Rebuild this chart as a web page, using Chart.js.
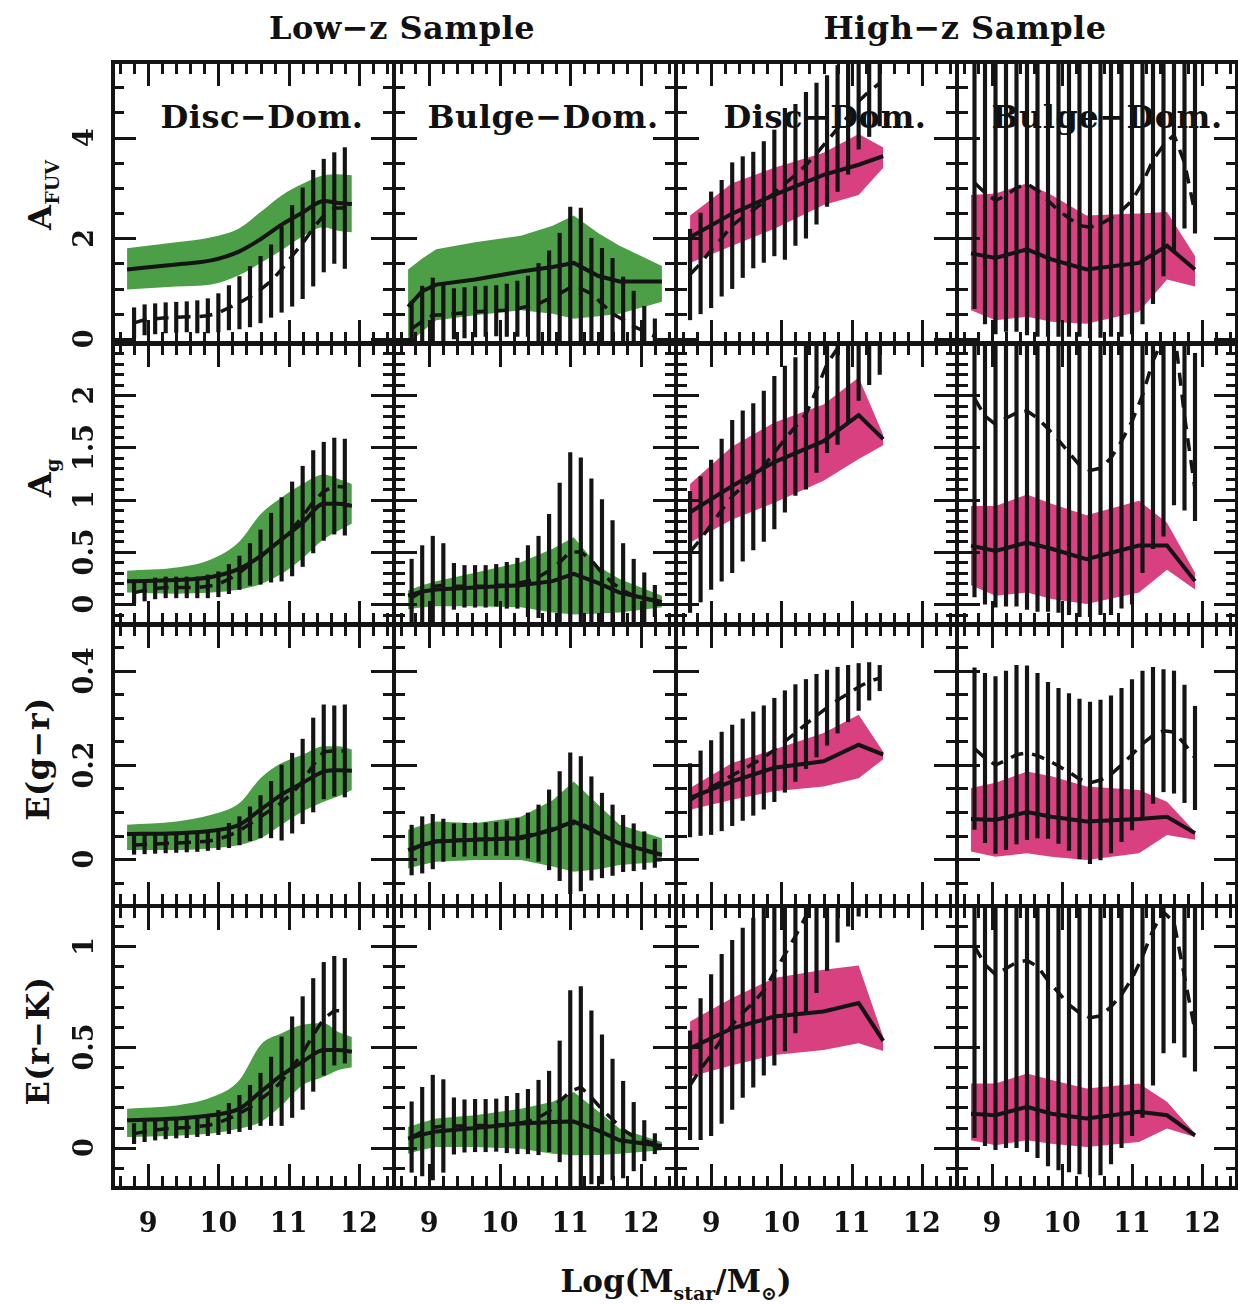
<!DOCTYPE html>
<html>
<head>
<meta charset="utf-8">
<title>Dust attenuation vs stellar mass</title>
<script src="https://cdn.jsdelivr.net/npm/chart.js@4.4.0/dist/chart.umd.min.js"></script>
<style>
  html, body { margin: 0; padding: 0; background: #fff; }
  #wrap { position: relative; width: 1238px; height: 1305px; overflow: hidden; font-family: "DejaVu Serif", serif; color: #111; }
  #wrap canvas { position: absolute; z-index: 2; }
  .t { position: absolute; z-index: 1; white-space: nowrap; font-size: 32px; font-weight: bold; line-height: 1; letter-spacing: 0.5px; transform: translate(-50%, -50%); }
  .rot { transform: translate(-50%, -50%) rotate(-90deg); }
  .t sub { font-size: 19px; vertical-align: -8px; line-height: 0; letter-spacing: 0; }
  .xt { font-size: 31px; letter-spacing: 0; }
</style>
</head>
<body>
<div id="wrap">
  <div class="t" style="left:402px;top:28px">Low−z Sample</div>
  <div class="t" style="left:965px;top:28px">High−z Sample</div>
  <div class="t" style="left:262px;top:117px">Disc−Dom.</div>
  <div class="t" style="left:543px;top:117px">Bulge−Dom.</div>
  <div class="t" style="left:825px;top:117px">Disc−Dom.</div>
  <div class="t" style="left:1107px;top:117px">Bulge−Dom.</div>
  <div class="t rot" style="left:40px;top:195px">A<sub>FUV</sub></div>
  <div class="t rot" style="left:40px;top:478px">A<sub>g</sub></div>
  <div class="t rot" style="left:38px;top:759px">E(g−r)</div>
  <div class="t rot" style="left:38px;top:1041px">E(r−K)</div>
  <div class="t xt" style="left:676px;top:1281px">Log(M<sub>star</sub>/M<sub>⊙</sub>)</div>
</div>
<script>
// tick labels
const massTicks = [9, 10, 11, 12];
const fuvTicks = [0, 2, 4];
const agTicks = [0, 0.5, 1, 1.5, 2];
const egrTicks = [0, 0.2, 0.4];
const erkTicks = [0, 0.5, 1];

// log stellar mass of band nodes and of binned points, per sample
const bandX_LD = [8.7, 9.4, 9.9, 10.3, 10.6, 10.9, 11.2, 11.5, 11.7, 11.9];
const bandX_LB = [8.7, 8.9, 9.1, 9.65, 10.3, 10.75, 11.05, 11.4, 11.7, 12.3];
const bandX_HD = [8.7, 9.3, 9.9, 10.6, 11.1, 11.45];
const bandX_HB = [8.7, 9.05, 9.5, 9.85, 10.35, 11.1, 11.5, 11.9];

const barX_LD = [8.8, 8.95, 9.1, 9.25, 9.4, 9.55, 9.7, 9.85, 10.0, 10.15, 10.3, 10.45, 10.6, 10.75, 10.9, 11.05, 11.2, 11.35, 11.5, 11.65, 11.8];
const barX_LB = [8.75, 8.9, 9.05, 9.2, 9.35, 9.5, 9.65, 9.8, 9.95, 10.1, 10.25, 10.4, 10.55, 10.7, 10.85, 11.0, 11.15, 11.3, 11.45, 11.6, 11.75, 11.9, 12.05, 12.2];
const barX_HD = [8.7, 8.85, 9.0, 9.15, 9.3, 9.45, 9.6, 9.75, 9.9, 10.05, 10.2, 10.35, 10.5, 10.65, 10.8, 10.95, 11.1, 11.25, 11.4];
const barX_HB = [8.75, 8.9, 9.05, 9.2, 9.35, 9.5, 9.65, 9.8, 9.95, 10.1, 10.25, 10.4, 10.55, 10.7, 10.85, 11.0, 11.15, 11.3, 11.45, 11.6, 11.75, 11.9];

// A_FUV
const fuvLD_hi  = [1.80, 1.92, 2.02, 2.20, 2.52, 2.85, 3.08, 3.25, 3.27, 3.25];
const fuvLD_lo  = [0.98, 1.04, 1.08, 1.27, 1.51, 1.76, 2.04, 2.22, 2.15, 2.12];
const fuvLD_med = [1.38, 1.48, 1.56, 1.74, 1.98, 2.27, 2.51, 2.74, 2.70, 2.68];
const fuvLD_mean = [0.32, 0.38, 0.40, 0.42, 0.43, 0.44, 0.44, 0.46, 0.52, 0.62, 0.72, 0.84, 0.98, 1.15, 1.38, 1.65, 1.90, 2.20, 2.45, 2.60, 2.60];
const fuvLD_err  = [0.30, 0.30, 0.30, 0.30, 0.30, 0.30, 0.32, 0.34, 0.38, 0.44, 0.52, 0.60, 0.66, 0.72, 0.85, 1.00, 1.10, 1.15, 1.12, 1.10, 1.20];

const fuvLB_hi  = [1.38, 1.60, 1.78, 1.92, 2.05, 2.25, 2.45, 2.10, 1.85, 1.45];
const fuvLB_lo  = [-0.10, 0.15, 0.37, 0.47, 0.57, 0.50, 0.40, 0.45, 0.50, 0.74];
const fuvLB_med = [0.64, 0.95, 1.08, 1.18, 1.34, 1.43, 1.51, 1.25, 1.14, 1.14];
const fuvLB_mean = [0.20, 0.35, 0.47, 0.48, 0.50, 0.52, 0.54, 0.55, 0.56, 0.57, 0.60, 0.65, 0.70, 0.80, 0.90, 1.02, 1.00, 0.90, 0.70, 0.50, 0.38, 0.25, 0.15, 0.05];
const fuvLB_err  = [0.55, 0.70, 0.74, 0.60, 0.50, 0.50, 0.50, 0.50, 0.50, 0.52, 0.55, 0.60, 0.80, 0.95, 1.20, 1.60, 1.60, 1.10, 1.10, 1.10, 0.85, 0.70, 0.50, 0.35];

const fuvHD_hi  = [2.45, 3.09, 3.40, 3.70, 4.07, 3.80];
const fuvHD_lo  = [1.51, 1.85, 2.19, 2.66, 2.86, 3.40];
const fuvHD_med = [2.02, 2.49, 2.86, 3.26, 3.46, 3.63];
const fuvHD_mean = [1.28, 1.50, 1.77, 2.00, 2.25, 2.42, 2.56, 2.72, 2.90, 3.08, 3.26, 3.45, 3.68, 3.93, 4.18, 4.42, 4.72, 4.92, 5.08];
const fuvHD_err  = [0.90, 1.00, 1.15, 1.15, 1.25, 1.20, 1.15, 1.20, 1.25, 1.50, 1.40, 1.45, 1.40, 1.30, 1.25, 1.15, 0.95, 0.90, 0.85];

const fuvHB_hi  = [2.86, 2.89, 3.09, 2.86, 2.45, 2.49, 2.52, 1.65];
const fuvHB_lo  = [0.57, 0.37, 0.44, 0.34, 0.30, 0.54, 1.18, 1.04];
const fuvHB_med = [1.70, 1.61, 1.78, 1.58, 1.38, 1.51, 1.85, 1.38];
const fuvHB_mean = [3.10, 2.90, 2.75, 2.85, 3.00, 3.08, 2.95, 2.75, 2.55, 2.40, 2.25, 2.22, 2.28, 2.40, 2.55, 2.75, 3.10, 3.55, 3.85, 4.05, 3.50, 2.50];
const fuvHB_err  = [2.50, 2.60, 2.65, 2.70, 2.85, 3.00, 2.90, 2.70, 2.50, 2.35, 2.20, 2.20, 2.25, 2.35, 2.50, 2.65, 2.80, 2.85, 2.60, 2.30, 1.30, 0.40];
const fuvHB_errUp = [3.5, 3.5, 3.5, 3.5, 3.5, 3.5, 3.5, 3.5, 3.5, 3.5, 3.5, 3.5, 3.5, 3.5, 3.5, 3.5, 3.5, 3.5, 3.5, 3.5, 3.5, 3.5];

// A_g
const agLD_hi  = [0.32, 0.35, 0.43, 0.60, 0.86, 1.02, 1.15, 1.24, 1.20, 1.15];
const agLD_lo  = [0.11, 0.10, 0.11, 0.14, 0.19, 0.29, 0.44, 0.62, 0.70, 0.77];
const agLD_med = [0.22, 0.23, 0.26, 0.34, 0.46, 0.62, 0.78, 0.96, 0.96, 0.94];
const agLD_mean = [0.11, 0.13, 0.15, 0.16, 0.16, 0.16, 0.16, 0.17, 0.19, 0.24, 0.30, 0.38, 0.45, 0.54, 0.62, 0.72, 0.84, 0.98, 1.08, 1.13, 1.12];
const agLD_err  = [0.10, 0.10, 0.10, 0.10, 0.10, 0.10, 0.10, 0.11, 0.12, 0.14, 0.16, 0.20, 0.26, 0.33, 0.40, 0.45, 0.48, 0.49, 0.47, 0.46, 0.46];

const agLB_hi  = [0.13, 0.18, 0.22, 0.30, 0.40, 0.53, 0.64, 0.36, 0.24, 0.08];
const agLB_lo  = [-0.05, -0.03, -0.02, -0.02, -0.03, -0.08, -0.10, -0.09, -0.08, -0.03];
const agLB_med = [0.08, 0.12, 0.14, 0.16, 0.18, 0.22, 0.29, 0.20, 0.11, 0.02];
const agLB_mean = [0.06, 0.12, 0.17, 0.18, 0.17, 0.17, 0.17, 0.17, 0.18, 0.18, 0.20, 0.22, 0.26, 0.32, 0.40, 0.50, 0.50, 0.42, 0.30, 0.20, 0.13, 0.08, 0.05, 0.03];
const agLB_err  = [0.37, 0.44, 0.48, 0.40, 0.22, 0.20, 0.20, 0.20, 0.20, 0.22, 0.24, 0.34, 0.39, 0.54, 0.76, 0.95, 0.90, 0.78, 0.70, 0.60, 0.45, 0.35, 0.25, 0.15];

const agHD_hi  = [1.15, 1.51, 1.74, 1.91, 2.17, 1.62];
const agHD_lo  = [0.59, 0.81, 0.97, 1.18, 1.39, 1.52];
const agHD_med = [0.88, 1.13, 1.36, 1.56, 1.81, 1.58];
const agHD_mean = [0.50, 0.62, 0.76, 0.90, 1.03, 1.13, 1.22, 1.32, 1.45, 1.58, 1.70, 1.82, 2.05, 2.30, 2.45, 2.65, 2.85, 3.00, 3.10];
const agHD_err  = [0.58, 0.60, 0.62, 0.68, 0.73, 0.72, 0.70, 0.72, 0.73, 0.70, 0.66, 0.72, 0.79, 0.85, 0.92, 0.92, 0.90, 0.90, 0.90];

const agHB_hi  = [0.94, 0.94, 1.05, 0.96, 0.85, 0.99, 0.78, 0.30];
const agHB_lo  = [0.18, 0.08, 0.11, 0.05, 0.00, 0.11, 0.33, 0.14];
const agHB_med = [0.56, 0.51, 0.59, 0.53, 0.43, 0.56, 0.56, 0.22];
const agHB_mean = [1.97, 1.80, 1.72, 1.78, 1.83, 1.85, 1.78, 1.68, 1.57, 1.45, 1.33, 1.28, 1.30, 1.40, 1.56, 1.75, 2.00, 2.33, 2.55, 2.65, 1.80, 1.10];
const agHB_err  = [1.90, 1.80, 1.75, 1.80, 1.85, 1.90, 1.85, 1.75, 1.65, 1.55, 1.45, 1.40, 1.40, 1.50, 1.60, 1.75, 1.70, 1.80, 1.90, 1.70, 0.90, 0.30];
const agHB_errUp = [2.0, 2.0, 2.0, 2.0, 2.0, 2.0, 2.0, 2.0, 2.0, 2.0, 2.0, 2.0, 2.0, 2.0, 2.0, 2.0, 2.0, 2.0, 2.0, 2.0, 2.0, 1.3];

// E(g-r)
const egrLD_hi  = [0.073, 0.080, 0.094, 0.119, 0.172, 0.204, 0.222, 0.240, 0.240, 0.233];
const egrLD_lo  = [0.019, 0.019, 0.023, 0.030, 0.044, 0.073, 0.101, 0.122, 0.133, 0.147];
const egrLD_med = [0.053, 0.055, 0.060, 0.073, 0.105, 0.137, 0.162, 0.186, 0.189, 0.188];
const egrLD_mean = [0.030, 0.031, 0.032, 0.033, 0.034, 0.035, 0.036, 0.038, 0.042, 0.050, 0.060, 0.075, 0.090, 0.105, 0.120, 0.140, 0.165, 0.200, 0.228, 0.230, 0.230];
const egrLD_err  = [0.020, 0.020, 0.020, 0.020, 0.020, 0.020, 0.020, 0.020, 0.022, 0.026, 0.030, 0.036, 0.045, 0.060, 0.080, 0.085, 0.090, 0.100, 0.100, 0.096, 0.098];

const egrLB_hi  = [0.062, 0.072, 0.080, 0.076, 0.090, 0.125, 0.165, 0.115, 0.073, 0.044];
const egrLB_lo  = [-0.020, -0.012, -0.006, -0.002, -0.002, -0.016, -0.027, -0.022, -0.013, -0.006];
const egrLB_med = [0.019, 0.030, 0.037, 0.041, 0.044, 0.062, 0.080, 0.055, 0.033, 0.009];
const egrLB_mean = [0.019, 0.030, 0.037, 0.040, 0.040, 0.041, 0.042, 0.042, 0.043, 0.044, 0.046, 0.050, 0.055, 0.062, 0.070, 0.076, 0.075, 0.065, 0.050, 0.040, 0.033, 0.025, 0.018, 0.012];
const egrLB_err  = [0.053, 0.060, 0.058, 0.045, 0.035, 0.035, 0.035, 0.035, 0.035, 0.037, 0.040, 0.048, 0.060, 0.085, 0.116, 0.150, 0.143, 0.110, 0.090, 0.075, 0.060, 0.050, 0.040, 0.030];

const egrHD_hi  = [0.151, 0.204, 0.233, 0.268, 0.307, 0.228];
const egrHD_lo  = [0.105, 0.126, 0.144, 0.154, 0.172, 0.212];
const egrHD_med = [0.130, 0.165, 0.194, 0.208, 0.243, 0.222];
const egrHD_mean = [0.125, 0.140, 0.152, 0.165, 0.178, 0.190, 0.203, 0.216, 0.232, 0.250, 0.268, 0.287, 0.305, 0.322, 0.338, 0.352, 0.366, 0.378, 0.385];
const egrHD_err  = [0.078, 0.090, 0.100, 0.105, 0.107, 0.108, 0.110, 0.110, 0.110, 0.108, 0.103, 0.095, 0.088, 0.080, 0.070, 0.060, 0.050, 0.040, 0.027];

const egrHB_hi  = [0.151, 0.162, 0.186, 0.176, 0.154, 0.147, 0.122, 0.058];
const egrHB_lo  = [0.016, 0.005, 0.012, 0.005, -0.002, 0.012, 0.051, 0.041];
const egrHB_med = [0.085, 0.083, 0.100, 0.090, 0.080, 0.085, 0.090, 0.055];
const egrHB_mean = [0.235, 0.215, 0.200, 0.210, 0.222, 0.226, 0.220, 0.210, 0.198, 0.185, 0.170, 0.162, 0.168, 0.180, 0.200, 0.222, 0.245, 0.263, 0.273, 0.270, 0.245, 0.215];
const egrHB_err  = [0.172, 0.180, 0.188, 0.190, 0.190, 0.185, 0.175, 0.166, 0.165, 0.167, 0.170, 0.172, 0.170, 0.167, 0.163, 0.160, 0.155, 0.145, 0.130, 0.130, 0.125, 0.110];

// E(r-K)
const erkLD_hi  = [0.194, 0.210, 0.250, 0.336, 0.510, 0.568, 0.610, 0.618, 0.576, 0.550];
const erkLD_lo  = [0.053, 0.060, 0.070, 0.095, 0.128, 0.210, 0.310, 0.352, 0.385, 0.400];
const erkLD_med = [0.136, 0.145, 0.161, 0.194, 0.277, 0.360, 0.427, 0.485, 0.485, 0.477];
const erkLD_mean = [0.070, 0.080, 0.088, 0.094, 0.098, 0.100, 0.105, 0.110, 0.125, 0.145, 0.170, 0.200, 0.240, 0.280, 0.330, 0.400, 0.470, 0.560, 0.640, 0.680, 0.680];
const erkLD_err  = [0.050, 0.050, 0.050, 0.050, 0.050, 0.050, 0.050, 0.050, 0.060, 0.075, 0.090, 0.110, 0.130, 0.170, 0.220, 0.250, 0.280, 0.280, 0.280, 0.270, 0.260];

const erkLB_hi  = [0.103, 0.125, 0.145, 0.161, 0.194, 0.228, 0.277, 0.180, 0.095, 0.028];
const erkLB_lo  = [-0.030, -0.010, 0.003, 0.003, -0.005, -0.030, -0.038, -0.036, -0.030, -0.013];
const erkLB_med = [0.045, 0.065, 0.081, 0.098, 0.120, 0.128, 0.130, 0.085, 0.037, 0.008];
const erkLB_mean = [0.053, 0.080, 0.100, 0.108, 0.108, 0.108, 0.110, 0.110, 0.112, 0.115, 0.120, 0.130, 0.150, 0.180, 0.230, 0.280, 0.300, 0.250, 0.190, 0.140, 0.090, 0.055, 0.035, 0.020];
const erkLB_err  = [0.175, 0.220, 0.260, 0.230, 0.140, 0.130, 0.130, 0.130, 0.130, 0.140, 0.150, 0.160, 0.185, 0.200, 0.300, 0.500, 0.500, 0.430, 0.370, 0.300, 0.240, 0.170, 0.100, 0.050];

const erkHD_hi  = [0.626, 0.743, 0.842, 0.884, 0.905, 0.550];
const erkHD_lo  = [0.352, 0.410, 0.460, 0.485, 0.518, 0.480];
const erkHD_med = [0.493, 0.593, 0.651, 0.676, 0.718, 0.530];
const erkHD_mean = [0.31, 0.39, 0.46, 0.54, 0.61, 0.67, 0.72, 0.78, 0.87, 0.96, 1.05, 1.15, 1.27, 1.38, 1.50, 1.60, 1.70, 1.80, 1.90];
const erkHD_err  = [0.27, 0.35, 0.40, 0.42, 0.42, 0.42, 0.42, 0.42, 0.46, 0.48, 0.48, 0.48, 0.50, 0.50, 0.48, 0.50, 0.55, 0.60, 0.60];

const erkHB_hi  = [0.319, 0.319, 0.369, 0.336, 0.294, 0.319, 0.228, 0.070];
const erkHB_lo  = [0.037, 0.012, 0.037, 0.020, 0.003, 0.028, 0.095, 0.053];
const erkHB_med = [0.169, 0.161, 0.203, 0.169, 0.145, 0.178, 0.161, 0.061];
const erkHB_mean = [1.00, 0.91, 0.86, 0.89, 0.92, 0.93, 0.90, 0.83, 0.77, 0.71, 0.67, 0.645, 0.655, 0.70, 0.76, 0.84, 0.95, 1.08, 1.17, 1.12, 0.85, 0.58];
const erkHB_err  = [0.95, 0.90, 0.87, 0.89, 0.92, 0.95, 0.95, 0.92, 0.88, 0.83, 0.80, 0.79, 0.79, 0.78, 0.76, 0.78, 0.80, 0.77, 0.70, 0.60, 0.40, 0.20];
const erkHB_errUp = [0.9, 0.9, 0.9, 0.9, 0.9, 0.9, 0.9, 0.9, 0.9, 0.9, 0.9, 0.9, 0.9, 0.9, 0.9, 0.9, 0.9, 0.9, 0.9, 0.9, 0.9, 0.9];

const ink = '#141414';
const green = '#4c9f46';
const pink = '#d8407f';

// rows: y range, minor tick step, labelled ticks
const rows = [
  {min: -0.1, max: 5.5, minor: 0.5, majors: fuvTicks},
  {min: -0.2, max: 2.5, minor: 0.1, majors: agTicks},
  {min: -0.1, max: 0.5, minor: 0.05, majors: egrTicks},
  {min: -0.2, max: 1.2, minor: 0.1, majors: erkTicks}
];
const cols = [
  {bandX: bandX_LD, barX: barX_LD, fill: green, smooth: true},
  {bandX: bandX_LB, barX: barX_LB, fill: green, smooth: false},
  {bandX: bandX_HD, barX: barX_HD, fill: pink, smooth: false},
  {bandX: bandX_HB, barX: barX_HB, fill: pink, smooth: false}
];
const panels = [
  [
    {hi: fuvLD_hi, lo: fuvLD_lo, med: fuvLD_med, mean: fuvLD_mean, err: fuvLD_err},
    {hi: fuvLB_hi, lo: fuvLB_lo, med: fuvLB_med, mean: fuvLB_mean, err: fuvLB_err},
    {hi: fuvHD_hi, lo: fuvHD_lo, med: fuvHD_med, mean: fuvHD_mean, err: fuvHD_err},
    {hi: fuvHB_hi, lo: fuvHB_lo, med: fuvHB_med, mean: fuvHB_mean, err: fuvHB_err, errUp: fuvHB_errUp}
  ],
  [
    {hi: agLD_hi, lo: agLD_lo, med: agLD_med, mean: agLD_mean, err: agLD_err},
    {hi: agLB_hi, lo: agLB_lo, med: agLB_med, mean: agLB_mean, err: agLB_err},
    {hi: agHD_hi, lo: agHD_lo, med: agHD_med, mean: agHD_mean, err: agHD_err},
    {hi: agHB_hi, lo: agHB_lo, med: agHB_med, mean: agHB_mean, err: agHB_err, errUp: agHB_errUp}
  ],
  [
    {hi: egrLD_hi, lo: egrLD_lo, med: egrLD_med, mean: egrLD_mean, err: egrLD_err},
    {hi: egrLB_hi, lo: egrLB_lo, med: egrLB_med, mean: egrLB_mean, err: egrLB_err},
    {hi: egrHD_hi, lo: egrHD_lo, med: egrHD_med, mean: egrHD_mean, err: egrHD_err},
    {hi: egrHB_hi, lo: egrHB_lo, med: egrHB_med, mean: egrHB_mean, err: egrHB_err}
  ],
  [
    {hi: erkLD_hi, lo: erkLD_lo, med: erkLD_med, mean: erkLD_mean, err: erkLD_err},
    {hi: erkLB_hi, lo: erkLB_lo, med: erkLB_med, mean: erkLB_mean, err: erkLB_err},
    {hi: erkHD_hi, lo: erkHD_lo, med: erkHD_med, mean: erkHD_mean, err: erkHD_err},
    {hi: erkHB_hi, lo: erkHB_lo, med: erkHB_med, mean: erkHB_mean, err: erkHB_err, errUp: erkHB_errUp}
  ]
];

// panel frames in page pixels
const rowTop = [62, 343, 624, 906];
const rowH = 282;
const colLeft = [113, 394, 676, 957];
const colW = [281, 282, 281, 280];

const pts = (xs, ys) => xs.map((x, i) => ({x: x, y: ys[i]}));

// frame with inward ticks on all four sides, plus labels on the outer panels
const framePlugin = {
  id: 'frame',
  afterDraw(chart, args, opts) {
    const {ctx, chartArea: a} = chart;
    const xs = chart.scales.x, ys = chart.scales.y;
    const row = rows[opts.row];
    const eps = 1e-6;
    ctx.save();
    ctx.strokeStyle = ink;
    ctx.lineWidth = 3;
    ctx.beginPath();
    for (let k = Math.ceil(8.5 / 0.2 - eps); k * 0.2 <= 12.5 + eps; k++) {
      const v = k * 0.2;
      if (v <= 8.5 + eps || v >= 12.5 - eps) continue;
      const len = Math.abs(v - Math.round(v)) < eps ? 24 : 12;
      const px = Math.round(xs.getPixelForValue(v)) + 0.5;
      ctx.moveTo(px, a.bottom); ctx.lineTo(px, a.bottom - len);
      ctx.moveTo(px, a.top); ctx.lineTo(px, a.top + len);
    }
    for (let k = Math.ceil(row.min / row.minor - eps); k * row.minor <= row.max + eps; k++) {
      const v = k * row.minor;
      if (v <= row.min + eps || v >= row.max - eps) continue;
      const major = row.majors.some(m => Math.abs(m - v) < eps);
      const len = major ? 23 : 11;
      const py = Math.round(ys.getPixelForValue(v)) + 0.5;
      ctx.moveTo(a.left, py); ctx.lineTo(a.left + len, py);
      ctx.moveTo(a.right, py); ctx.lineTo(a.right - len, py);
    }
    ctx.stroke();
    ctx.lineWidth = 4;
    ctx.strokeRect(a.left, a.top, a.right - a.left, a.bottom - a.top);

    ctx.fillStyle = ink;
    ctx.font = 'bold 27px "DejaVu Serif", serif';
    ctx.textAlign = 'center';
    ctx.textBaseline = 'middle';
    if (opts.col === 0) {
      row.majors.forEach(v => {
        ctx.save();
        ctx.translate(a.left - 28, ys.getPixelForValue(v));
        ctx.rotate(-Math.PI / 2);
        ctx.fillText(String(v), 0, 1);
        ctx.restore();
      });
    }
    if (opts.row === 3) {
      massTicks.forEach(v => ctx.fillText(String(v), xs.getPixelForValue(v), a.bottom + 37));
    }
    ctx.restore();
  }
};

const wrap = document.getElementById('wrap');
rows.forEach((row, r) => {
  cols.forEach((col, c) => {
    const d = panels[r][c];
    const padL = c === 0 ? colLeft[0] : 8;
    const padB = r === 3 ? 70 : 8;
    const pad = 8;
    const w = colW[c] + padL + pad;
    const h = rowH + pad + padB;
    const cv = document.createElement('canvas');
    cv.width = w; cv.height = h;
    cv.style.width = w + 'px'; cv.style.height = h + 'px';
    cv.style.left = (colLeft[c] - padL) + 'px';
    cv.style.top = (rowTop[r] - pad) + 'px';
    wrap.appendChild(cv);

    const interp = col.smooth ? 'monotone' : 'default';
    const up = d.errUp || d.err;
    new Chart(cv, {
      type: 'line',
      data: {
        datasets: [
          {data: pts(col.bandX, d.hi), fill: '+1', backgroundColor: col.fill, borderColor: 'rgba(0,0,0,0)',
           borderWidth: 0, pointRadius: 0, cubicInterpolationMode: interp, order: 4},
          {data: pts(col.bandX, d.lo), fill: false, borderColor: 'rgba(0,0,0,0)',
           borderWidth: 0, pointRadius: 0, cubicInterpolationMode: interp, order: 4},
          {type: 'bar', data: col.barX.map((x, i) => ({x: x, y: [d.mean[i] - d.err[i], d.mean[i] + up[i]]})),
           backgroundColor: ink, borderWidth: 0, barThickness: 3.5, grouped: false, order: 3},
          {data: pts(col.bandX, d.med), fill: false, borderColor: ink, borderWidth: 4,
           pointRadius: 0, cubicInterpolationMode: interp, order: 2},
          {data: pts(col.barX, d.mean), fill: false, borderColor: ink, borderWidth: 3.5,
           borderDash: [13, 9], pointRadius: 0, order: 1}
        ]
      },
      options: {
        responsive: false,
        maintainAspectRatio: false,
        animation: false,
        events: [],
        layout: {padding: {left: padL, top: pad, right: pad, bottom: padB}},
        scales: {
          x: {type: 'linear', min: 8.5, max: 12.5, offset: false, display: false, grid: {offset: false}},
          y: {type: 'linear', min: row.min, max: row.max, display: false}
        },
        plugins: {
          legend: {display: false},
          tooltip: {enabled: false},
          frame: {row: r, col: c}
        }
      },
      plugins: [framePlugin]
    });
  });
});
</script>
</body>
</html>
